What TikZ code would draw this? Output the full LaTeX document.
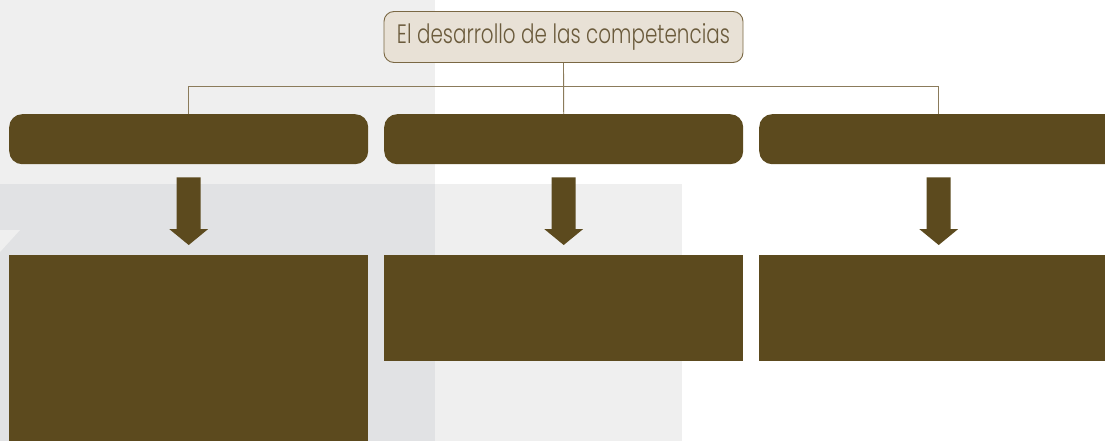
\documentclass[tikz,border=0pt]{standalone}
\usepackage{fontspec}
\newfontfamily\titlefont{Poppins Light}
\usetikzlibrary{calc}
\definecolor{bgl}{HTML}{EFEFEF}
\definecolor{bgd}{HTML}{E1E2E4}
\definecolor{dark}{HTML}{5C4A1E}
\definecolor{titlefill}{HTML}{E8E1D6}
\definecolor{titleline}{HTML}{7A6844}
\definecolor{conn}{HTML}{8B7B5B}
\definecolor{titletext}{HTML}{6B5B3C}
\tikzset{
  headbox/.style={rectangle, rounded corners=13pt, fill=dark, draw=none, inner sep=0pt, minimum width=359pt, minimum height=50pt, anchor=north west},
  bodybox/.style={rectangle, fill=dark, draw=none, inner sep=0pt, minimum width=359pt, anchor=north west},
  titlebox/.style={rectangle, rounded corners=10pt, fill=titlefill, draw=titleline, line width=0.9pt, inner sep=0pt, minimum width=359pt, minimum height=51pt, text=titletext},
  connline/.style={draw=conn, line width=0.9pt},
  arrowfill/.style={fill=dark}
}
\begin{document}
\begin{tikzpicture}[x=1pt,y=-1pt]
\useasboundingbox (0,0) rectangle (1105,441);
\clip (0,0) rectangle (1105,441);
% background
\fill[white] (0,0) rectangle (1105,441);
\fill[bgl] (0,0) rectangle (435,441);
\fill[bgl] (0,184) rectangle (682,441);
\fill[bgd] (0,184) rectangle (435,441);
\fill[bgl] (0,230) -- (20,230) -- (0,252) -- cycle;
% title
\node[titlebox] (title) at (563.5,37) {\resizebox{333pt}{20pt}{\titlefont El desarrollo de las competencias}};
% header boxes
\node[headbox] (h1) at (9,114) {};
\node[headbox] (h2) at (384,114) {};
\node[headbox] (h3) at (759,114) {};
% body boxes
\node[bodybox, minimum height=200pt] (b1) at (9,255) {};
\node[bodybox, minimum height=106pt] (b2) at (384,255) {};
\node[bodybox, minimum height=106pt] (b3) at (759,255) {};
% connectors
\draw[connline] (title.south) -- (h2.north);
\coordinate (junction) at ($(title.south)+(0,24)$);
\draw[connline] (junction) -| (h1.north);
\draw[connline] (junction) -| (h3.north);
% arrows
\foreach \h/\b in {h1/b1,h2/b2,h3/b3}{
  \fill[arrowfill] ($(\h.south)+(-12,13)$) -- ($(\h.south)+(12,13)$) -- ($(\b.north)+(12,-26)$) -- ($(\b.north)+(19.5,-26)$) -- ($(\b.north)+(0,-10)$) -- ($(\b.north)+(-19.5,-26)$) -- ($(\b.north)+(-12,-26)$) -- cycle;
}
\end{tikzpicture}
\end{document}
